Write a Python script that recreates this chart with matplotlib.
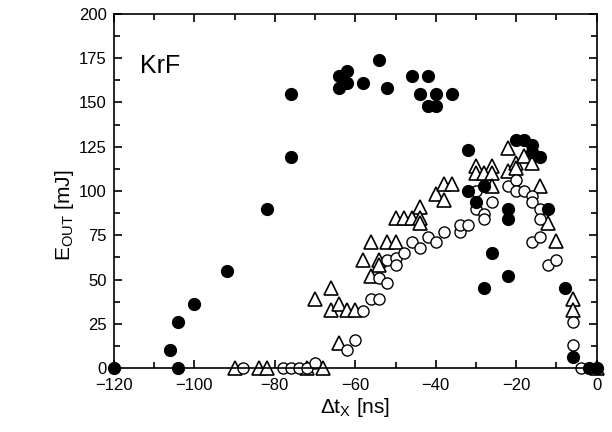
import matplotlib
matplotlib.use("Agg")
import matplotlib.pyplot as plt
from matplotlib.ticker import MultipleLocator

plt.rcParams['font.family'] = ['Liberation Sans', 'DejaVu Sans']
plt.rcParams['mathtext.fontset'] = 'custom'
plt.rcParams['mathtext.rm'] = 'Liberation Sans'

# filled circles
filled_x = [-120, -106, -104, -104, -100, -92, -82, -76, -76, -64, -64, -62, -62, -58,
            -54, -52, -46, -42, -44, -40, -36, -42, -40, -32, -32, -30, -28, -26, -28,
            -22, -22, -22, -20, -18, -16, -16, -14, -12, -8, -6, -2, 0]
filled_y = [0, 10, 0, 26, 36, 55, 90, 155, 119, 165, 158, 168, 161, 161,
            174, 158, 165, 165, 155, 155, 155, 148, 148, 123, 100, 94, 103, 65, 45,
            90, 84, 52, 129, 129, 126, 122, 119, 90, 45, 6, 0, 0]

# open triangles
tri_x = [-90, -84, -82, -72, -68, -70, -66, -66, -64, -62, -60, -64,
         -58, -56, -56, -54, -54, -52, -50,
         -50, -48, -46, -44, -44, -44, -40, -38, -36, -38,
         -30, -26, -30, -28, -26, -26,
         -22, -22, -20, -20, -18, -16, -14, -12, -10, -6, -6, 0]
tri_y = [0, 0, 0, 0, 0, 39, 45, 33, 36, 33, 33, 14,
         61, 71, 52, 61, 58, 71, 71,
         85, 85, 85, 91, 85, 82, 98, 104, 104, 95,
         114, 114, 110, 110, 110, 103,
         124, 111, 116, 113, 120, 116, 103, 82, 72, 39, 33, 0]

# open circles
circ_x = [-88, -78, -76, -74, -72, -70, -62, -60, -58, -56, -54, -54, -52, -52,
          -50, -50, -48, -46, -44, -42, -40, -38, -34, -34, -32,
          -30, -30, -28, -28, -26, -22, -20, -20, -18, -16, -16, -14, -14,
          -16, -14, -12, -10, -6, -6, -4]
circ_y = [0, 0, 0, 0, 0, 3, 10, 16, 32, 39, 39, 51, 48, 61,
          62, 58, 65, 71, 68, 74, 71, 77, 77, 81, 81,
          100, 90, 87, 84, 94, 103, 106, 100, 100, 97, 94, 90, 84,
          71, 74, 58, 61, 26, 13, 0]

fig = plt.figure(figsize=(6.12, 4.32), dpi=100)
ax = fig.add_axes([0.186, 0.148, 0.789, 0.820])

ax.plot(tri_x, tri_y, linestyle='none', marker='^', markersize=10.5,
        markerfacecolor='white', markeredgecolor='black', markeredgewidth=1.2, clip_on=False)
ax.plot(circ_x, circ_y, linestyle='none', marker='o', markersize=8,
        markerfacecolor='white', markeredgecolor='black', markeredgewidth=1.0, clip_on=False)
ax.plot(filled_x, filled_y, linestyle='none', marker='o', markersize=8.5,
        color='black', clip_on=False)

ax.set_xlim(-120, 0)
ax.set_ylim(0, 200)
ax.xaxis.set_major_locator(MultipleLocator(20))
ax.xaxis.set_minor_locator(MultipleLocator(10))
ax.yaxis.set_major_locator(MultipleLocator(25))
ax.yaxis.set_minor_locator(MultipleLocator(12.5))
ax.tick_params(which='both', direction='in', top=True, right=True, labelsize=12, width=1.2)
ax.tick_params(which='major', length=6)
ax.tick_params(which='minor', length=4)
ax.tick_params(axis='x', pad=7)
ax.tick_params(axis='y', pad=5)
for s in ax.spines.values():
    s.set_linewidth(1.2)

ax.set_xlabel(r'$\Delta$t$_{\mathrm{X}}$ [ns]', fontsize=15)
ax.xaxis.set_label_coords(0.5, -0.08)
ax.set_ylabel(r'E$_{\mathrm{OUT}}$ [mJ]', fontsize=15)
ax.yaxis.set_label_coords(-0.078, 0.43)
ax.text(-113.5, 164, 'KrF', fontsize=18, va='bottom', ha='left')

fig.savefig('out.png', dpi=100)
